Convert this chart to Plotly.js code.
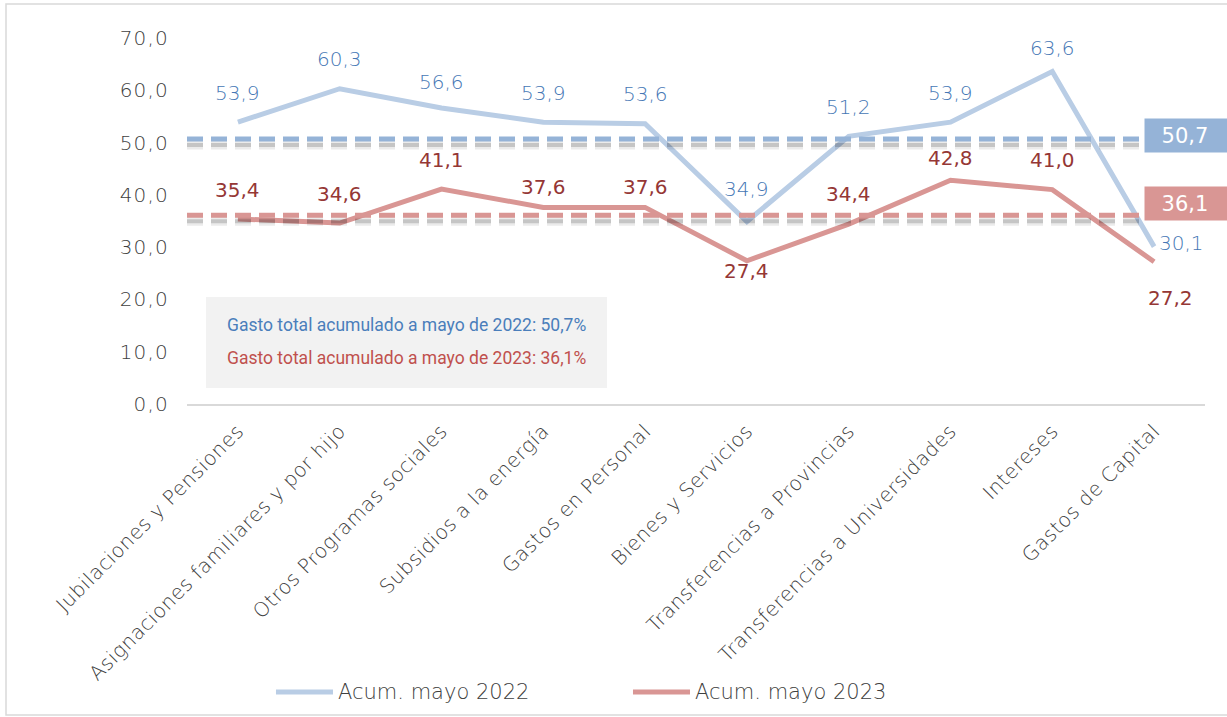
<!DOCTYPE html>
<html>
<head>
<meta charset="utf-8">
<script src="https://cdn.plot.ly/plotly-3.0.1.min.js"></script>
<style>
html,body{margin:0;padding:0;background:#fff;}
#chart{width:1227px;height:717px;}
#chart .xtick text{letter-spacing:0.5px;}
#chart .ytick text{letter-spacing:1.2px;}
</style>
</head>
<body>
<div id="chart"></div>
<script>
const categories = [
  "Jubilaciones y Pensiones",
  "Asignaciones familiares y por hijo",
  "Otros Programas sociales",
  "Subsidios a la energía",
  "Gastos en Personal",
  "Bienes y Servicios",
  "Transferencias a Provincias",
  "Transferencias a Universidades",
  "Intereses",
  "Gastos de Capital"
];
const acum2022 = [53.9, 60.3, 56.6, 53.9, 53.6, 34.9, 51.2, 53.9, 63.6, 30.1];
const acum2023 = [35.4, 34.6, 41.1, 37.6, 37.6, 27.4, 34.4, 42.8, 41.0, 27.2];
const total2022 = 50.7;
const total2023 = 36.1;
const seriesNames = ["Acum. mayo 2022", "Acum. mayo 2023"];
const yTicks = [0, 10, 20, 30, 40, 50, 60, 70];

// label offsets (pixels) for data labels
const shift2022 = [[0,29],[0,30],[0,26],[0,29],[0,30],[0,33],[0,29],[0,29],[0,23],[27,4]];
const shift2023 = [[0,29],[0,29],[0,29],[0,20],[0,20],[0,-10],[0,30],[0,22],[0,30],[16,-36]];

const fmt = v => v.toFixed(1).replace('.', ',');
const idx = categories.map((c, i) => i);
const FONT = "'DejaVu Sans', sans-serif";
const BOXFONT = "Roboto, 'Noto Sans', sans-serif";
const COL22 = '#b9cde5', COL23 = '#d99694';

const traces = [
  {x: idx, y: acum2022, name: seriesNames[0], mode: 'lines', type: 'scatter',
   line: {color: COL22, width: 5}, hoverinfo: 'skip'},
  {x: idx, y: acum2023, name: seriesNames[1], mode: 'lines', type: 'scatter',
   line: {color: COL23, width: 5}, hoverinfo: 'skip'}
];

const annotations = [];
acum2022.forEach((v, i) => annotations.push({
  x: i, y: v, xref: 'x', yref: 'y', text: fmt(v), showarrow: false,
  xshift: shift2022[i][0], yshift: shift2022[i][1],
  font: {family: FONT, size: 20, weight: 200, color: '#4677b5'}
}));
acum2023.forEach((v, i) => annotations.push({
  x: i, y: v, xref: 'x', yref: 'y', text: fmt(v), showarrow: false,
  xshift: shift2023[i][0], yshift: shift2023[i][1],
  font: {family: FONT, size: 20, weight: 400, color: '#953735'}
}));
// total boxes at right
[[total2022, '#95b3d7', 3], [total2023, '#d99694', 12]].forEach(([v, c, ys]) => annotations.push({
  x: 1.0, xref: 'paper', xanchor: 'left', xshift: -61, y: v, yref: 'y', yshift: ys,
  text: fmt(v) + '&nbsp;&nbsp;&nbsp;', showarrow: false, bgcolor: c,
  borderpad: 4, width: 92, height: 25, align: 'center',
  font: {family: FONT, size: 21, weight: 400, color: '#ffffff'}
}));
// text box
annotations.push({
  x: 0.2156, xref: 'paper', xanchor: 'center', y: 15.1, yref: 'y', showarrow: false,
  text: 'Gasto total acumulado a mayo de 2022: ' + fmt(total2022) + '%',
  font: {family: BOXFONT, size: 17.5, color: '#4a7ebb'}
});
annotations.push({
  x: 0.2156, xref: 'paper', xanchor: 'center', y: 8.8, yref: 'y', showarrow: false,
  text: 'Gasto total acumulado a mayo de 2023: ' + fmt(total2023) + '%',
  font: {family: BOXFONT, size: 17.5, color: '#c0504d'}
});
// custom legend text
const legY = -0.7869;
[[0.1464, seriesNames[0]], [0.4971, seriesNames[1]]].forEach(([x, t]) => annotations.push({
  x: x, xref: 'paper', xanchor: 'left', y: legY, yref: 'paper', yanchor: 'middle',
  text: t, showarrow: false, font: {family: FONT, size: 21, weight: 200, color: '#404040'}
}));

const dashX0 = 0.0, dashX1 = 0.938;
const shapes = [
  {type: 'rect', xref: 'paper', yref: 'y', x0: 0.0187, x1: 0.4126, y0: 3.06, y1: 20.46,
   fillcolor: '#f2f2f2', line: {width: 0}, layer: 'below'},
  {type: 'rect', xref: 'paper', yref: 'paper', x0: -0.1778, x1: 1.05, y0: -0.85, y1: 1.093,
   line: {color: '#d9d9d9', width: 1.5}, fillcolor: 'rgba(0,0,0,0)', layer: 'below'},
  {type: 'line', xref: 'paper', yref: 'paper', x0: 0.0874, x1: 0.1434, y0: legY, y1: legY,
   line: {color: COL22, width: 5}},
  {type: 'line', xref: 'paper', yref: 'paper', x0: 0.4381, x1: 0.4941, y0: legY, y1: legY,
   line: {color: COL23, width: 5}}
];
[[total2022, '#95b3d7'], [total2023, '#d99694']].forEach(([v, c]) => {
  // shadow
  [[-6, 'rgba(0,0,0,0.08)', 9], [-6, 'rgba(0,0,0,0.16)', 4]].forEach(([off, sc, w]) => shapes.push({
    type: 'line', xref: 'paper', yref: 'y', ysizemode: 'pixel', yanchor: v,
    x0: dashX0, x1: dashX1, y0: off, y1: off,
    line: {color: sc, width: w, dash: '16px,8px'}
  }));
  shapes.push({type: 'line', xref: 'paper', yref: 'y', x0: dashX0, x1: dashX1, y0: v, y1: v,
    line: {color: c, width: 5, dash: '16px,8px'}});
});

const layout = {
  width: 1227, height: 717,
  margin: {l: 187, r: 22, t: 38, b: 313},
  paper_bgcolor: '#ffffff', plot_bgcolor: '#ffffff',
  separators: ',.',
  font: {family: FONT, color: '#595959'},
  showlegend: false,
  xaxis: {
    range: [-0.5, 9.5], tickmode: 'array', tickvals: idx, ticktext: categories,
    tickangle: -45, showgrid: false, zeroline: false, showline: true,
    linecolor: '#d9d9d9', linewidth: 1.5, ticks: '', ticklabelstandoff: 6,
    tickfont: {family: FONT, size: 20, weight: 200, color: '#404040'}, fixedrange: true
  },
  yaxis: {
    range: [0, 70], tickmode: 'array', tickvals: yTicks, tickformat: '.1f',
    showgrid: false, zeroline: false, showline: false, ticks: '', ticklabelstandoff: 17,
    tickfont: {family: FONT, size: 20, weight: 200, color: '#404040'}, fixedrange: true
  },
  annotations: annotations,
  shapes: shapes
};

Plotly.newPlot('chart', traces, layout, {displayModeBar: false, staticPlot: true});
</script>
</body>
</html>
